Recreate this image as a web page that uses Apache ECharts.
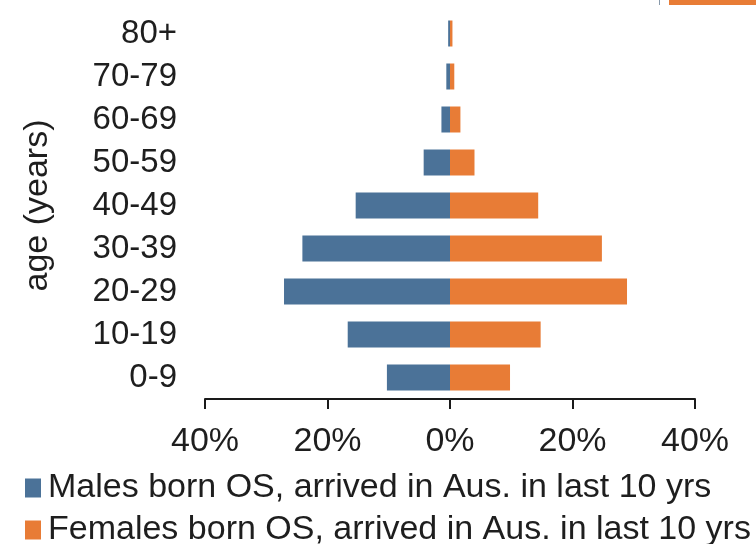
<!DOCTYPE html>
<html>
<head>
<meta charset="utf-8">
<script src="https://cdn.jsdelivr.net/npm/echarts@6/dist/echarts.min.js"></script>
<style>
html,body{margin:0;padding:0;background:#fff;}
#c{width:756px;height:544px;}
</style>
</head>
<body>
<div id="c"></div>
<script>
const categories = ['0-9','10-19','20-29','30-39','40-49','50-59','60-69','70-79','80+'];
const males = [10.3, 16.7, 27.1, 24.1, 15.4, 4.3, 1.4, 0.6, 0.3];
const females = [9.8, 14.8, 28.9, 24.8, 14.4, 4.0, 1.7, 0.7, 0.4];
const maleName = 'Males born OS, arrived in Aus. in last 10 yrs';
const femaleName = 'Females born OS, arrived in Aus. in last 10 yrs';
const xTicks = [-40, -20, 0, 20, 40];

const FONT = '"Liberation Sans", Arial, sans-serif';
const TXT = '#1e1e1e';

const legendBase = {
  orient: 'horizontal',
  left: 20,
  itemWidth: 16, itemHeight: 19,
  icon: 'rect',
  textStyle: {fontSize: 34, lineHeight: 34, color: TXT, fontFamily: FONT, padding: [0,0,0,2]}
};

const chart = echarts.init(document.getElementById('c'), null, {renderer:'canvas'});
chart.setOption({
  animation: false,
  backgroundColor: '#ffffff',
  textStyle: {fontFamily: FONT},
  grid: {left: 205, right: 61, top: 12, bottom: 145, containLabel: false},
  xAxis: {
    type: 'value',
    min: xTicks[0], max: xTicks[xTicks.length-1], interval: 20,
    axisLine: {show: true, lineStyle: {color: '#1a1a1a', width: 2}},
    axisTick: {show: true, length: 10, lineStyle: {color: '#1a1a1a', width: 2}},
    splitLine: {show: false},
    axisLabel: {
      margin: 26, fontSize: 34, color: TXT, fontFamily: FONT,
      formatter: v => Math.abs(v) + '%'
    }
  },
  yAxis: {
    type: 'category',
    data: categories,
    name: 'age (years)',
    nameLocation: 'middle',
    nameRotate: 90,
    nameGap: 150,
    nameTextStyle: {fontSize: 34, color: TXT, fontFamily: FONT},
    axisLine: {show: false},
    axisTick: {show: false},
    axisLabel: {interval: 0, margin: 28, fontSize: 33, color: TXT, fontFamily: FONT}
  },
  legend: [
    Object.assign({}, legendBase, {top: 466, data: [maleName]}),
    Object.assign({}, legendBase, {top: 508, data: [femaleName]})
  ],
  series: [
    {
      name: maleName, type: 'bar', stack: 'pop',
      data: males.map(v => -v),
      barWidth: 26,
      itemStyle: {color: '#4b7298'}
    },
    {
      name: femaleName, type: 'bar', stack: 'pop',
      data: females,
      barWidth: 26,
      itemStyle: {color: '#e87c36'}
    }
  ],
  graphic: [
    {type: 'rect', left: 669, top: 0, shape: {width: 87, height: 5}, style: {fill: '#e87c36'}},
    {type: 'rect', left: 659, top: 0, shape: {width: 1, height: 5}, style: {fill: '#8899aa'}}
  ]
});
</script>
</body>
</html>
